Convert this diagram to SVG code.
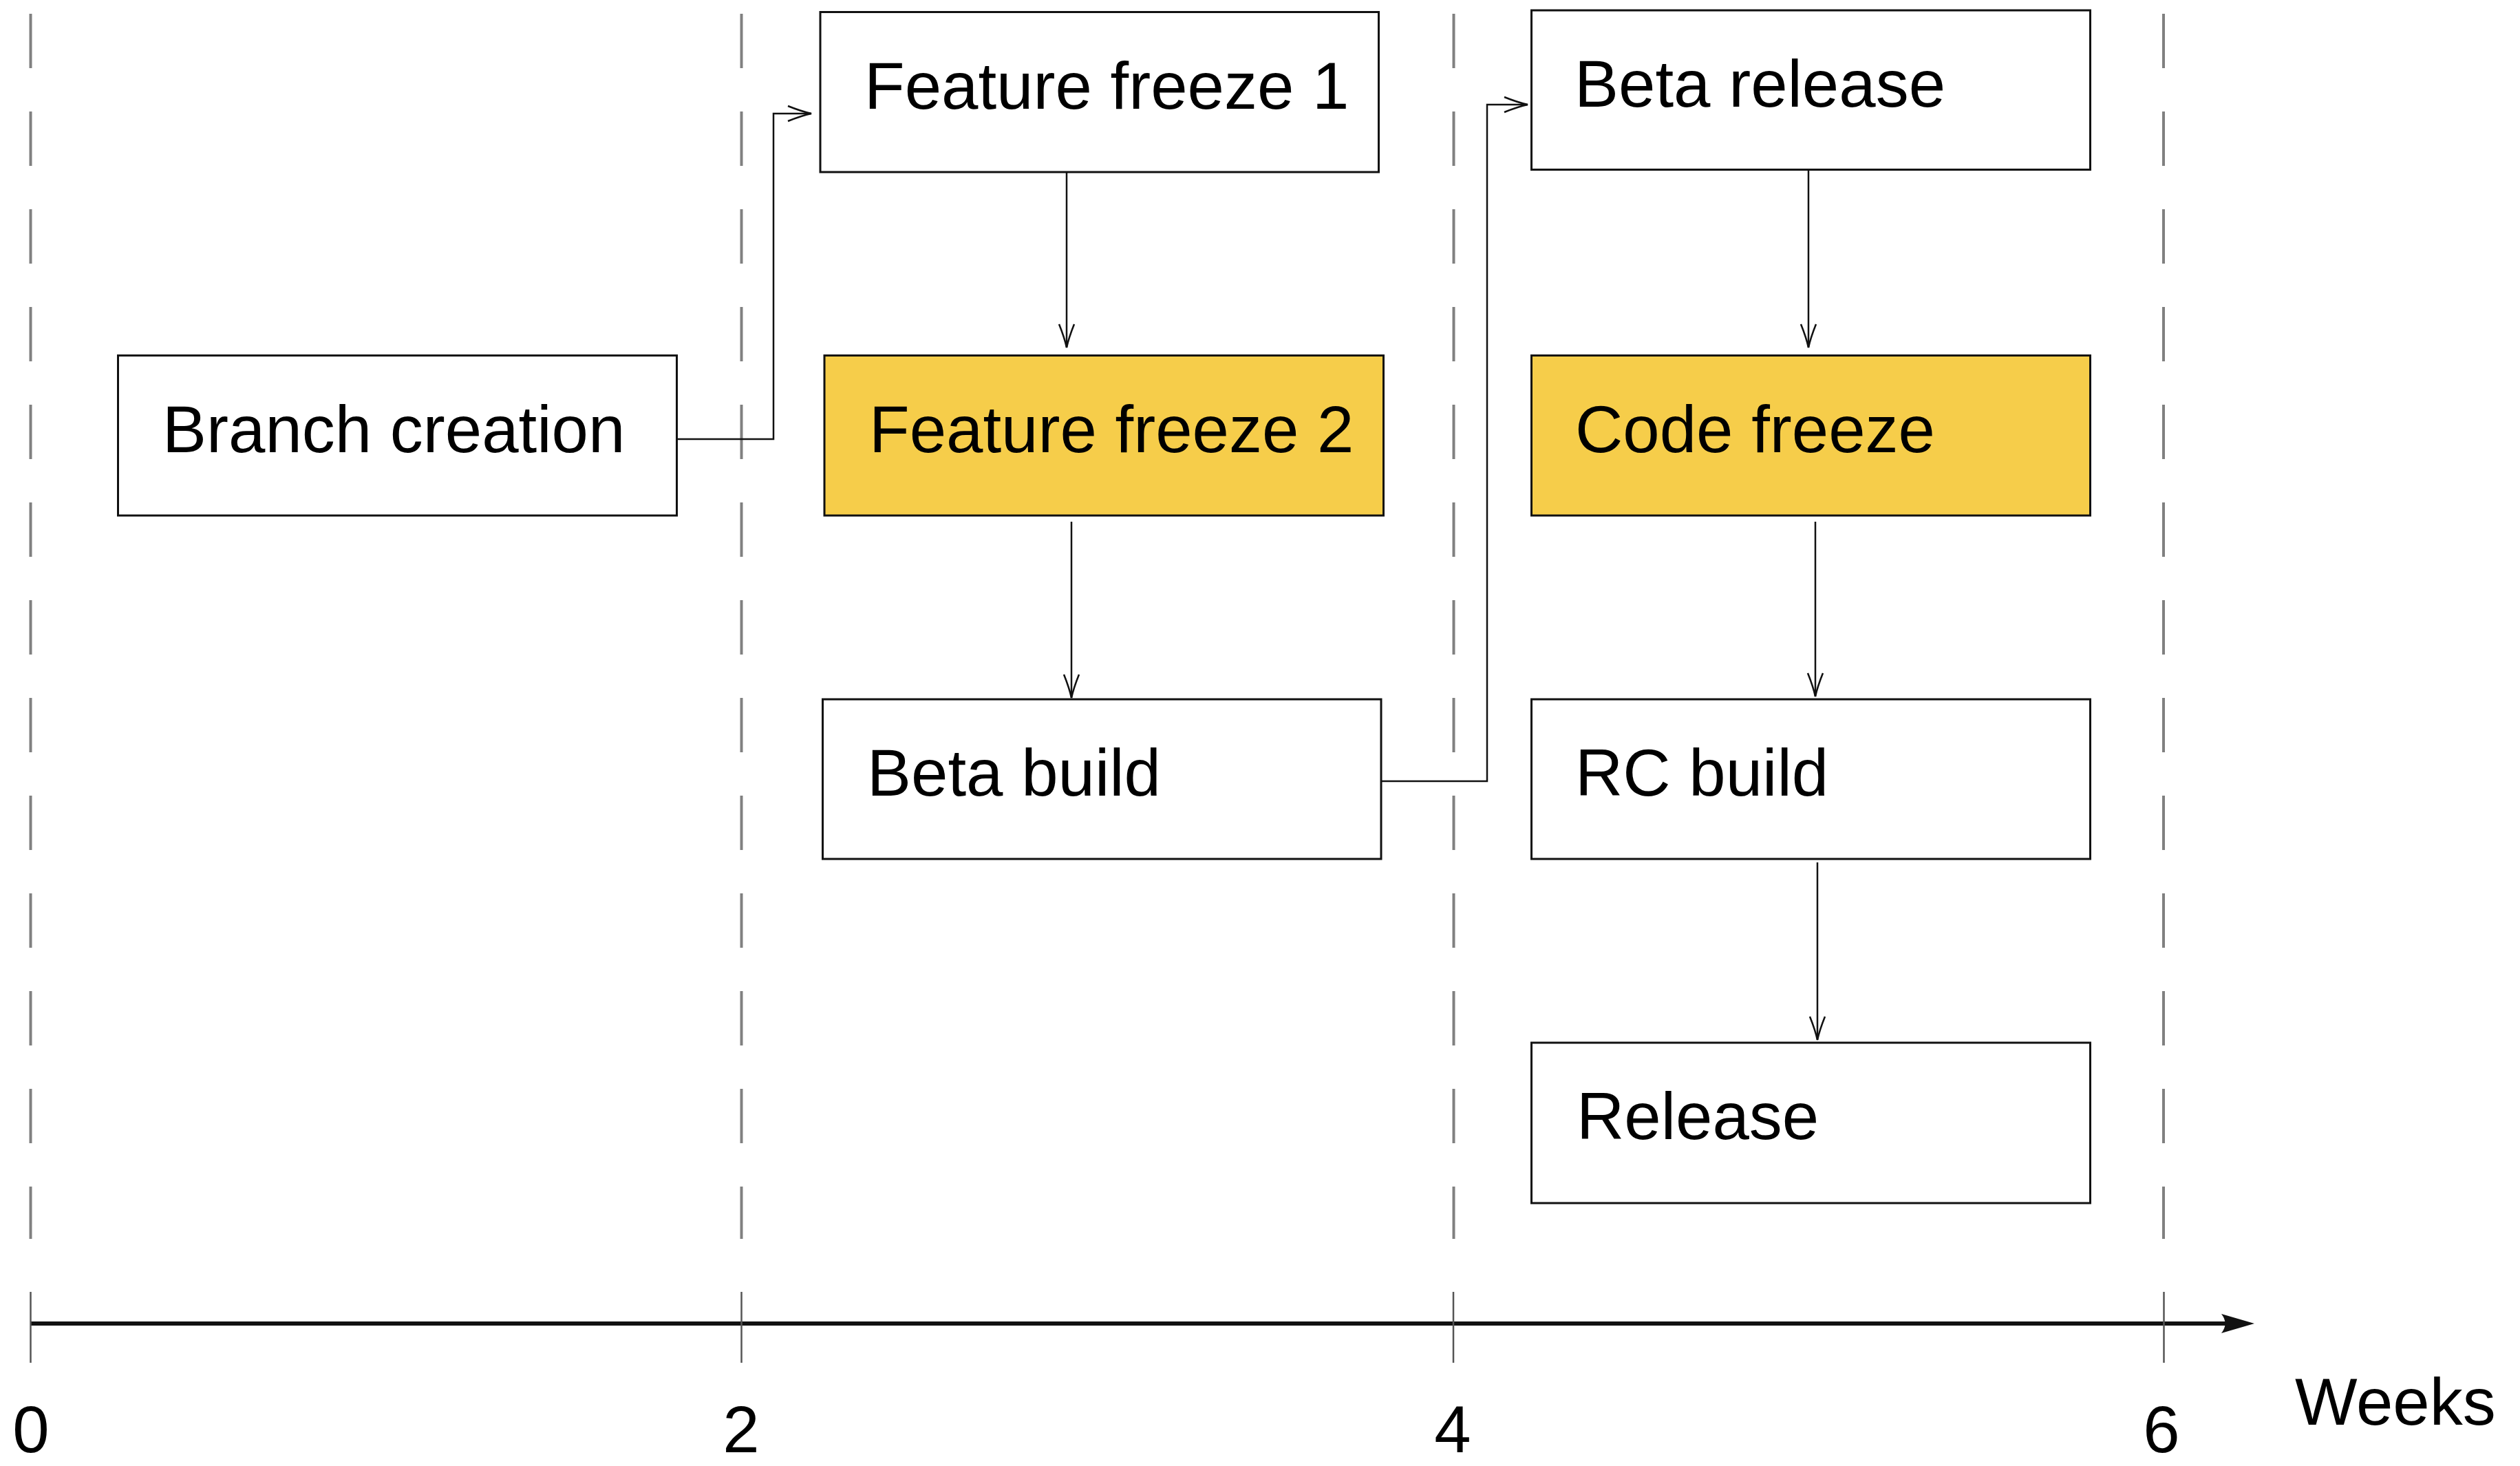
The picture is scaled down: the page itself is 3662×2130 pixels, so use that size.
<svg xmlns="http://www.w3.org/2000/svg" width="3662" height="2130" viewBox="0 0 3662 2130">
  <style>
    .box { fill: #ffffff; stroke: #111111; stroke-width: 3; }
    .hot { fill: #F6CD4A; }
    .label { font-family: "Liberation Sans", Arial, Helvetica, sans-serif; font-size: 96px; fill: #000000; }
    .grid { stroke: #808080; stroke-width: 4; stroke-dasharray: 79 63; fill: none; }
    .tick { stroke: #555555; stroke-width: 2.5; }
    .edge { fill: none; stroke: #111111; stroke-width: 2.5; marker-end: url(#open); }
  </style>
  <defs>
    <marker id="open" markerUnits="userSpaceOnUse" markerWidth="50" markerHeight="30" viewBox="-40 -15 45 30" refX="0" refY="0" orient="auto" overflow="visible">
      <path d="M -34 -11 Q -14 -3 0 0 Q -14 3 -34 11" fill="none" stroke="#111111" stroke-width="2.5"/>
    </marker>
  </defs>

  <rect width="3662" height="2130" fill="#ffffff"/>

  <!-- week grid lines -->
  <g id="grid">
    <line class="grid" x1="44.5" y1="20" x2="44.5" y2="1800"/>
    <line class="grid" x1="1077.5" y1="20" x2="1077.5" y2="1800"/>
    <line class="grid" x1="2112.5" y1="20" x2="2112.5" y2="1800"/>
    <line class="grid" x1="3144" y1="20" x2="3144" y2="1800"/>
  </g>

  <!-- time axis -->
  <g id="axis">
    <line x1="44" y1="1923" x2="3245" y2="1923" stroke="#111111" stroke-width="6"/>
    <path d="M 3276 1923 L 3228 1909 Q 3239 1923 3228 1937 Z" fill="#111111"/>
    <line class="tick" x1="44.5" y1="1877" x2="44.5" y2="1980"/>
    <line class="tick" x1="1077.5" y1="1877" x2="1077.5" y2="1980"/>
    <line class="tick" x1="2112" y1="1877" x2="2112" y2="1980"/>
    <line class="tick" x1="3144.5" y1="1877" x2="3144.5" y2="1980"/>
    <text class="label" x="45" y="2110" text-anchor="middle">0</text>
    <text class="label" x="1077" y="2110" text-anchor="middle">2</text>
    <text class="label" x="2111" y="2110" text-anchor="middle">4</text>
    <text class="label" x="3141" y="2110" text-anchor="middle">6</text>
    <text class="label" x="3335" y="2070">Weeks</text>
  </g>

  <!-- connectors -->
  <g id="connectors">
    <path class="edge" d="M 983 638 H 1124 V 165 H 1179"/>
    <path class="edge" d="M 1550 250 V 505"/>
    <path class="edge" d="M 1557 758 V 1014"/>
    <path class="edge" d="M 2007 1135 H 2161 V 152 H 2220"/>
    <path class="edge" d="M 2628 246 V 505"/>
    <path class="edge" d="M 2638 758 V 1012"/>
    <path class="edge" d="M 2641 1253 V 1511"/>
  </g>

  <!-- nodes -->
  <g id="branch-creation">
    <rect class="box" x="171.5" y="516.5" width="812" height="232.5"/>
    <text class="label" x="236" y="657">Branch creation</text>
  </g>
  <g id="feature-freeze-1">
    <rect class="box" x="1192" y="17.5" width="811.5" height="232.5"/>
    <text class="label" x="1256" y="158">Feature freeze 1</text>
  </g>
  <g id="feature-freeze-2">
    <rect class="box hot" x="1198" y="516.5" width="812.5" height="232.5"/>
    <text class="label" x="1263" y="657">Feature freeze 2</text>
  </g>
  <g id="beta-build">
    <rect class="box" x="1195.5" y="1016" width="811.5" height="232"/>
    <text class="label" x="1260" y="1156">Beta build</text>
  </g>
  <g id="beta-release">
    <rect class="box" x="2225.5" y="15" width="812" height="231.5"/>
    <text class="label" x="2288" y="155">Beta release</text>
  </g>
  <g id="code-freeze">
    <rect class="box hot" x="2225.5" y="516.5" width="812" height="232.5"/>
    <text class="label" x="2289" y="657">Code freeze</text>
  </g>
  <g id="rc-build">
    <rect class="box" x="2225.5" y="1016" width="812" height="232"/>
    <text class="label" x="2289" y="1156">RC build</text>
  </g>
  <g id="release">
    <rect class="box" x="2225.5" y="1515" width="812" height="233"/>
    <text class="label" x="2291" y="1655">Release</text>
  </g>
</svg>
